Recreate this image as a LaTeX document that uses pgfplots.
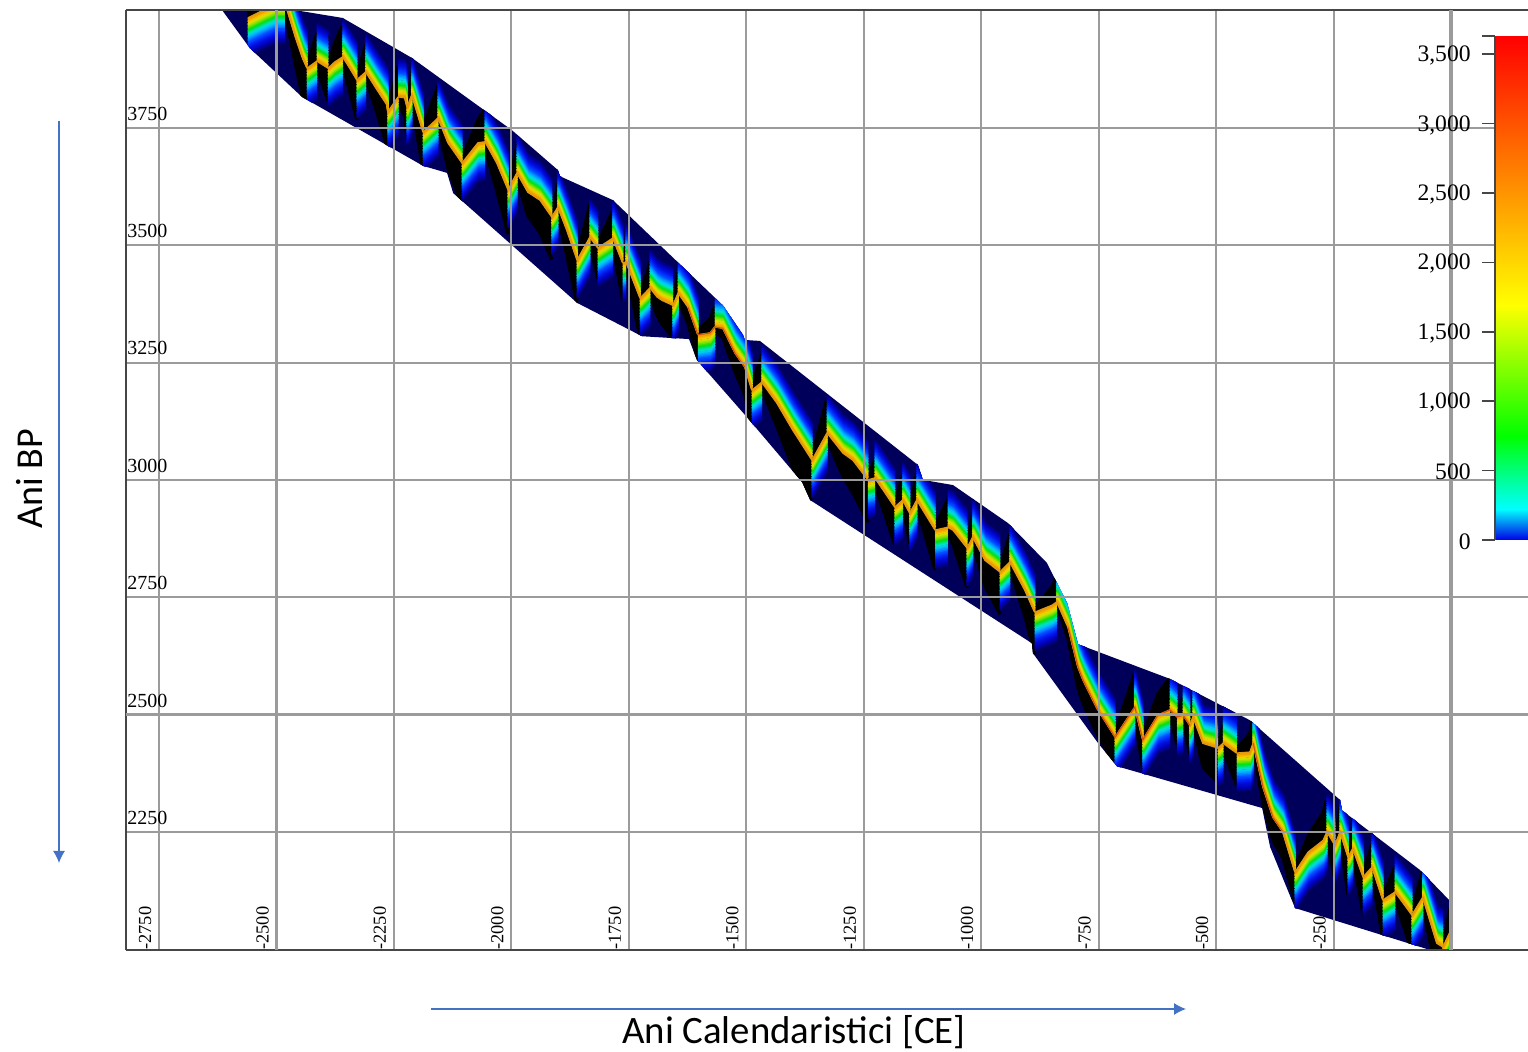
\documentclass[border=0pt]{standalone}
\usepackage{pgfplots}
\usepackage{pgfplotstable}
\pgfplotsset{compat=1.18}
\usetikzlibrary{arrows.meta}
\usepackage{fontspec}
\setmainfont{Liberation Serif}
\newfontfamily\labelfont{Carlito}
\definecolor{navyband}{RGB}{0,0,90}
\definecolor{gridgrey}{RGB}{155,155,155}
\definecolor{framegrey}{RGB}{70,70,70}
\definecolor{arrowblue}{RGB}{68,114,196}

\pgfplotstableread{
x y
-2616 4001
-2476 4001
-2450 3999
-2359 3984
-2212 3899
-1999 3745
-1901 3660
-1897 3647
-1784 3596
-1550 3372
-1507 3309
-1503 3298
-1471 3296
-1135 3032
-1124 3000
-1060 2989
-943 2908
-860 2823
-817 2737
-794 2650
-598 2576
-428 2488
-236 2318
-232 2296
-66 2169
-4 2105
-2 2000
-49 2000
-332 2088
-385 2218
-402 2301
-711 2390
-751 2439
-890 2631
-892 2652
-1364 2957
-1381 2995
-1499 3134
-1605 3255
-1622 3300
-1722 3306
-1860 3377
-2124 3611
-2137 3654
-2188 3669
-2446 3816
-2557 3920
-2616 4001
}\envelope

% falling runs of the curve; d = depth of the dark zone below
\pgfplotstableread{
x y d
-2482 4012 10
-2476 3997 30
-2459 3941 60
-2444 3897 85
-2435 3877 95
nan nan nan
-2414 3892 15
-2390 3877 70
nan nan nan
-2359 3901 15
-2344 3877 50
-2329 3852 85
nan nan nan
-2310 3869 15
-2286 3831 50
-2265 3799 90
-2263 3784 95
nan nan nan
-2241 3816 15
-2227 3814 40
-2222 3794 70
nan nan nan
-2212 3820 15
-2188 3741 85
nan nan nan
-2156 3771 15
-2135 3718 55
-2105 3675 90
nan nan nan
-2056 3720 15
-2031 3675 60
-2007 3618 95
nan nan nan
-1988 3654 15
-1965 3613 50
-1939 3596 70
-1914 3560 90
nan nan nan
-1901 3581 15
-1882 3532 55
-1860 3468 95
nan nan nan
-1833 3517 15
-1816 3494 65
nan nan nan
-1784 3515 15
-1763 3462 80
nan nan nan
-1756 3464 15
-1726 3387 85
nan nan nan
-1705 3409 15
-1690 3390 40
-1680 3383 50
-1656 3372 70
nan nan nan
-1645 3398 15
-1624 3368 35
-1603 3309 55
nan nan nan
-1567 3326 10
-1550 3323 20
-1524 3270 40
-1503 3240 60
-1488 3191 85
nan nan nan
-1467 3208 15
-1435 3164 50
-1401 3106 80
-1360 3042 105
nan nan nan
-1328 3100 15
-1294 3057 50
-1273 3042 70
-1241 3000 90
nan nan nan
-1226 3004 15
-1184 2942 80
nan nan nan
-1167 2957 15
-1152 2929 65
nan nan nan
-1137 2957 15
-1098 2893 85
nan nan nan
-1071 2899 15
-1060 2893 30
-1030 2855 85
nan nan nan
-1018 2878 15
-992 2829 55
-960 2804 90
nan nan nan
-939 2825 15
-907 2765 55
-886 2718 90
nan nan nan
-839 2740 5
-815 2686 25
-794 2601 45
-783 2573 50
-754 2514 55
-715 2452 60
nan nan nan
-673 2516 15
-656 2446 65
nan nan nan
-598 2510 15
-583 2495 60
nan nan nan
-570 2499 15
-556 2477 60
nan nan nan
-549 2495 15
-528 2439 50
-496 2429 75
nan nan nan
-485 2439 15
-456 2418 70
nan nan nan
-421 2439 10
-400 2345 35
-379 2281 50
-358 2250 55
-332 2164 65
nan nan nan
-264 2250 15
-247 2222 75
nan nan nan
-236 2250 15
-219 2196 80
nan nan nan
-209 2215 15
-187 2154 80
nan nan nan
-168 2175 15
-145 2105 85
nan nan nan
-119 2122 15
-83 2073 80
nan nan nan
-60 2111 15
-30 2013 75
-17 2005 85
}\fallruns

% rising runs of the curve; d = height of the dark zone above
\pgfplotstableread{
x y d
-2561 3984 10
-2531 3999 20
-2503 4012 30
-2482 4012 40
nan nan nan
-2435 3877 10
-2414 3892 60
nan nan nan
-2390 3877 10
-2376 3890 40
-2359 3901 70
nan nan nan
-2329 3852 10
-2310 3869 60
nan nan nan
-2263 3784 10
-2241 3816 65
nan nan nan
-2222 3794 10
-2212 3820 50
nan nan nan
-2188 3741 10
-2156 3771 70
nan nan nan
-2105 3675 10
-2071 3718 50
-2056 3720 70
nan nan nan
-2007 3618 10
-1988 3654 60
nan nan nan
-1914 3560 10
-1901 3581 50
nan nan nan
-1860 3468 10
-1833 3517 70
nan nan nan
-1816 3494 10
-1784 3515 60
nan nan nan
-1763 3462 10
-1756 3464 40
nan nan nan
-1726 3387 10
-1705 3409 55
nan nan nan
-1656 3372 10
-1645 3398 45
nan nan nan
-1603 3309 10
-1577 3313 30
-1567 3326 45
nan nan nan
-1488 3191 10
-1467 3208 60
nan nan nan
-1360 3042 10
-1328 3100 75
nan nan nan
-1241 3000 10
-1226 3004 40
nan nan nan
-1184 2942 10
-1167 2957 55
nan nan nan
-1152 2929 10
-1137 2957 60
nan nan nan
-1098 2893 10
-1071 2899 60
nan nan nan
-1030 2855 10
-1018 2878 50
nan nan nan
-960 2804 10
-939 2825 60
nan nan nan
-886 2718 10
-849 2733 40
-839 2740 55
nan nan nan
-715 2452 10
-673 2516 75
nan nan nan
-656 2446 10
-624 2499 45
-598 2510 70
nan nan nan
-583 2495 10
-570 2499 40
nan nan nan
-556 2477 10
-549 2495 45
nan nan nan
-496 2429 10
-485 2439 40
nan nan nan
-456 2418 10
-428 2420 40
-421 2439 60
nan nan nan
-332 2164 10
-304 2207 35
-272 2232 60
-264 2250 75
nan nan nan
-247 2222 10
-236 2250 55
nan nan nan
-219 2196 10
-209 2215 45
nan nan nan
-187 2154 10
-168 2175 50
nan nan nan
-145 2105 10
-119 2122 55
nan nan nan
-83 2073 10
-60 2111 60
nan nan nan
-17 2005 10
-2 2037 50
}\riseruns

% redder stretches of the crest
\pgfplotstableread{
x y
-1624 3368
-1603 3309
-1577 3313
-1567 3326
-1550 3323
-1524 3270
-1503 3240
nan nan
-815 2686
-794 2601
-783 2573
-754 2514
-715 2452
-673 2516
-656 2446
-624 2499
-598 2510
-583 2495
-570 2499
-556 2477
nan nan
-421 2439
-400 2345
-379 2281
-358 2250
}\redcrest

\pgfplotsset{fanline/.style={forget plot,no markers,unbounded coords=jump,line cap=butt}}
\newcommand{\fan}[2]{%
 \addplot[fanline,color=#1,line width=1.05pt] table[x=x,y expr={\thisrow{y}+(#2)}]{\fallruns};
 \addplot[fanline,color=#1,line width=1.05pt] table[x=x,y expr={\thisrow{y}-(#2)}]{\riseruns};
}
\newcommand{\blk}[1]{%
 \addplot[fanline,color=black,line width=1.6pt] table[x=x,y expr={\thisrow{y}-(#1)*\thisrow{d}}]{\fallruns};
 \addplot[fanline,color=black,line width=1.6pt] table[x=x,y expr={\thisrow{y}+(#1)*\thisrow{d}}]{\riseruns};
}
\definecolor{c01}{HTML}{F0A000}
\definecolor{c02}{HTML}{F5B800}
\definecolor{c03}{HTML}{F0D000}
\definecolor{c04}{HTML}{D0E000}
\definecolor{c05}{HTML}{A0E000}
\definecolor{c06}{HTML}{70E000}
\definecolor{c07}{HTML}{30E000}
\definecolor{c08}{HTML}{00E020}
\definecolor{c09}{HTML}{00E060}
\definecolor{c10}{HTML}{00E0A0}
\definecolor{c11}{HTML}{00E0D0}
\definecolor{c12}{HTML}{00C8F0}
\definecolor{c13}{HTML}{00A8FF}
\definecolor{c14}{HTML}{0090FF}
\definecolor{c15}{HTML}{0070FF}
\definecolor{c16}{HTML}{0050FF}
\definecolor{c17}{HTML}{0040FF}
\definecolor{c18}{HTML}{0030FF}
\definecolor{c20}{HTML}{0020F0}
\definecolor{c22}{HTML}{0010E0}
\definecolor{c24}{HTML}{0008D0}
\definecolor{c26}{HTML}{0004C0}
\definecolor{c28}{HTML}{0000B0}
\definecolor{c30}{HTML}{0000A0}
\definecolor{c32}{HTML}{000090}
\definecolor{c34}{HTML}{000080}
\definecolor{c36}{HTML}{00006C}
\definecolor{crest}{HTML}{E09A10}
\definecolor{crestred}{HTML}{D05010}

\begin{document}
\begin{tikzpicture}
\path[use as bounding box] (0,0) rectangle (764pt,525.5pt);

\begin{axis}[
  at={(63pt,50.5pt)},anchor=south west,
  scale only axis,width=701pt,height=470pt,
  xmin=-2820.4,xmax=163.9,ymin=1998.6,ymax=4001,
  axis on top,
  axis x line*=box,axis y line*=left,
  axis line style={-,color=framegrey,line width=1pt},
  major tick length=0pt,
  grid=major,
  grid style={gridgrey,line width=1pt},
  xtick={-2750,-2500,-2250,-2000,-1750,-1500,-1250,-1000,-750,-500,-250,0},
  xticklabels={-2750,-2500,-2250,-2000,-1750,-1500,-1250,-1000,-750,-500,-250,},
  ytick={2250,2500,2750,3000,3250,3500,3750},
  yticklabels={2250,2500,2750,3000,3250,3500,3750},
  extra x ticks={-2500,0},
  extra x tick labels={,},
  extra x tick style={grid style={gridgrey,line width=1.6pt}},
  extra y ticks={2500},
  extra y tick labels={},
  extra y tick style={grid style={gridgrey,line width=1.6pt}},
  xticklabel style={rotate=90,anchor=west,font=\fontsize{9.2}{10}\selectfont,inner sep=0pt,xshift=0pt,yshift=7pt},
  yticklabel style={anchor=south west,font=\fontsize{10}{11}\selectfont,inner sep=0pt,xshift=0.5pt,yshift=3.5pt},
]
\addplot[forget plot,no markers,fill=navyband,draw=none] table[x=x,y=y]{\envelope};
\begin{scope}
\clip (-2616,4001)--(-2476,4001)--(-2450,3999)--(-2359,3984)--(-2212,3899)--(-1999,3745)--(-1901,3660)--(-1897,3647)--(-1784,3596)--(-1550,3372)--(-1507,3309)--(-1503,3298)--(-1471,3296)--(-1135,3032)--(-1124,3000)--(-1060,2989)--(-943,2908)--(-860,2823)--(-817,2737)--(-794,2650)--(-598,2576)--(-428,2488)--(-236,2318)--(-232,2296)--(-66,2169)--(-4,2105)--(-2,2000)--(-49,2000)--(-332,2088)--(-385,2218)--(-402,2301)--(-711,2390)--(-751,2439)--(-890,2631)--(-892,2652)--(-1364,2957)--(-1381,2995)--(-1499,3134)--(-1605,3255)--(-1622,3300)--(-1722,3306)--(-1860,3377)--(-2124,3611)--(-2137,3654)--(-2188,3669)--(-2446,3816)--(-2557,3920)--cycle;
\blk{1}\blk{0.9}\blk{0.8}\blk{0.7}\blk{0.6}\blk{0.5}\blk{0.4}\blk{0.3}\blk{0.2}\blk{0.1}
\fan{c36}{81}
\fan{c34}{79}
\fan{c32}{77}
\fan{c30}{75}
\fan{c28}{73}
\fan{c26}{71}
\fan{c24}{68}
\fan{c22}{64}
\fan{c20}{60}
\fan{c18}{56}
\fan{c17}{53}
\fan{c16}{50}
\fan{c15}{47}
\fan{c14}{44}
\fan{c13}{41}
\fan{c12}{38}
\fan{c11}{34}
\fan{c10}{31}
\fan{c09}{28}
\fan{c08}{25}
\fan{c07}{22}
\fan{c06}{19}
\fan{c05}{16}
\fan{c04}{13}
\fan{c03}{9}
\fan{c02}{6}
\fan{c01}{3}
\addplot[fanline,color=crest,line width=0.75pt] table[x=x,y=y]{\fallruns};
\addplot[fanline,color=crest,line width=0.75pt] table[x=x,y=y]{\riseruns};
\addplot[fanline,color=crestred,line width=0.5pt] table[x=x,y=y]{\redcrest};
\end{scope}
\end{axis}

% colour bar
\begin{axis}[
  at={(747.5pt,255.5pt)},anchor=south west,
  scale only axis,width=16.5pt,height=252pt,
  view={0}{90},
  xmin=0,xmax=1,ymin=0,ymax=3630,
  axis on top,
  axis x line=none,
  axis y line*=left,
  axis line style={-,color=framegrey,line width=0.8pt},
  xtick=\empty,
  ytick={0,500,1000,1500,2000,2500,3000,3500},
  extra y ticks={3630},
  extra y tick labels={},
  tick align=outside,
  major tick length=6.5pt,
  tick style={color=framegrey,line width=0.8pt},
  yticklabel style={font=\fontsize{11.8}{13}\selectfont,inner sep=0pt,xshift=-5.5pt,yshift=-0.8pt,/pgf/number format/assume math mode=true,
     /pgf/number format/1000 sep={,}},
  ytick pos=left,
  colormap={rb}{rgb255(0)=(0,0,230) rgb255(224)=(0,255,255) rgb255(750)=(0,255,0) rgb255(1690)=(255,255,0) rgb255(3630)=(255,0,0)},
]
\addplot3[surf,shader=interp,point meta=y,mesh/rows=5] coordinates {
(0,0,0)(1,0,0)
(0,224,0)(1,224,0)
(0,750,0)(1,750,0)
(0,1690,0)(1,1690,0)
(0,3630,0)(1,3630,0)
};
\end{axis}

% axis titles and arrows
\draw[arrowblue,line width=0.6pt,-{Latex[length=6pt,width=6pt]}] (215.5pt,21pt) -- (593pt,21pt);
\draw[arrowblue,line width=0.6pt,-{Latex[length=6pt,width=6pt]}] (29.5pt,465pt) -- (29.5pt,94pt);
\node[font=\labelfont\fontsize{19.4}{21}\selectfont,anchor=center,inner sep=0pt] at (397pt,9.5pt) {Ani Calendaristici [CE]};
\node[font=\labelfont\fontsize{19}{21}\selectfont,anchor=center,inner sep=0pt,rotate=90] at (14.8pt,286pt) {Ani BP};
\end{tikzpicture}
\end{document}
